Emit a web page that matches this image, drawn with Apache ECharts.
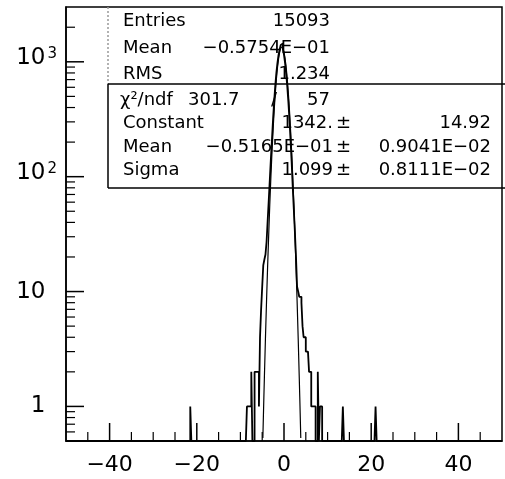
<!DOCTYPE html>
<html>
<head>
<meta charset="utf-8">
<script src="https://cdn.jsdelivr.net/npm/echarts@6/dist/echarts.min.js"></script>
<style>
	html, body { margin: 0; padding: 0; background: #fff; }
	#main { width: 505px; height: 479px; }
</style>
</head>
<body>
<div id="main"></div>
<script>
// axis range
var xMin = -50, xMax = 50;
var yMin = 0.5, yMax = 3000;
var binWidth = 0.25;

// histogram contents (bins of 0.25 starting at coreLow)
var coreLow = -8.5;
var coreCounts = [
	1, 1, 1, 1, 2, 0, 0, 2, 2, 2, 2, 1, 4, 7, 11, 17, 19, 21, 27, 41,
	62, 95, 145, 215, 320, 455, 620, 800, 980, 1150, 1280, 1400, 1440, 1290, 1150, 975, 790, 610, 450, 315,
	210, 135, 82, 52, 33, 20, 11, 10, 9, 9, 8, 5, 4, 4, 3, 3, 3, 2, 2, 1,
	1, 1, 1, 0, 0, 2, 0, 1, 1
];
// single entries far from the peak
var outlierLow = [-21.5, 13.5, 21.0];
var outlierCounts = [1, 1, 1];

// gaussian fit curve
var fitX = [-4.85, -4.5, -4.0, -3.5, -3.0, -2.5, -2.0, -1.5, -1.0, -0.5, 0.0, 0.5, 1.0, 1.5, 2.0, 2.5, 3.0, 3.5, 3.85];
var fitY = [0.53, 1.78, 8.4, 32, 101, 256, 529, 887, 1210, 1342, 1210, 887, 529, 256, 101, 32, 8.4, 1.78, 0.53];

// ticks
var xMajorTicks = [-40, -20, 0, 20, 40];
var xMinorTicks = [-45, -35, -30, -25, -15, -10, -5, 5, 10, 15, 25, 30, 35, 45];
var yMajorTicks = [1, 10, 100, 1000];
var yMinorTicks = [0.6, 0.7, 0.8, 0.9, 2, 3, 4, 5, 6, 7, 8, 9, 20, 30, 40, 50, 60, 70, 80, 90,
	200, 300, 400, 500, 600, 700, 800, 900, 2000];

// statistics box
var statsNames = ['Entries', 'Mean', 'RMS', 'χ²/ndf', 'Constant', 'Mean', 'Sigma'];
var statsValues = ['15093', '−0.5754E−01', '1.234', '57', '1342.', '−0.5165E−01', '1.099'];
var statsErrors = ['', '', '', '', '14.92', '0.9041E−02', '0.8111E−02'];
var chi2Value = '301.7';

// build step line of the histogram over the full range
var nBins = Math.round((xMax - xMin) / binWidth);
var counts = [];
for (var i = 0; i < nBins; i++) {
	counts[i] = 0;
}
for (var i = 0; i < coreCounts.length; i++) {
	counts[Math.round((coreLow - xMin) / binWidth) + i] = coreCounts[i];
}
for (var i = 0; i < outlierLow.length; i++) {
	counts[Math.round((outlierLow[i] - xMin) / binWidth)] = outlierCounts[i];
}
var histData = [];
for (var i = 0; i < nBins; i++) {
	// empty bins sit on the bottom of the log axis
	histData.push([xMin + i * binWidth, counts[i] > 0 ? counts[i] : yMin]);
}
histData.push([xMax, yMin]);

var fitData = [];
for (var i = 0; i < fitX.length; i++) {
	fitData.push([fitX[i], fitY[i]]);
}

// inward ticks drawn through the axis scales
function tickSeries(values, onY, len, width) {
	var data = [];
	for (var i = 0; i < values.length; i++) {
		data.push(onY ? [xMin, values[i]] : [values[i], yMin]);
	}
	return {
		type : 'custom',
		silent : true,
		z : 5,
		data : data,
		encode : { x : 0, y : 1 },
		renderItem : function(params, api) {
			var p = api.coord([api.value(0), api.value(1)]);
			return {
				type : 'line',
				shape : onY ? { x1 : p[0], y1 : p[1], x2 : p[0] + len, y2 : p[1] }
					: { x1 : p[0], y1 : p[1], x2 : p[0], y2 : p[1] - len },
				style : { stroke : '#000', lineWidth : width }
			};
		}
	};
}

var font = '"DejaVu Sans", sans-serif';
var statsFont = '18px ' + font;

function txt(s, x, y, align) {
	return {
		type : 'text',
		z : 1,
		style : {
			text : s, x : x, y : y, font : statsFont, fill : '#000',
			align : align, verticalAlign : 'middle',
			textAlign : align, textVerticalAlign : 'middle'
		}
	};
}
function seg(x1, y1, x2, y2, color, dash) {
	return {
		type : 'line',
		z : 1,
		shape : { x1 : x1, y1 : y1, x2 : x2, y2 : y2 },
		style : { stroke : color, lineWidth : 1.5, lineDash : dash }
	};
}

var rowY = [21, 48, 74, 100, 123, 147, 170];
var graphics = [
	seg(108, 7, 108, 84, '#999', [2, 2]),
	seg(108, 84, 108, 188, '#000', null),
	seg(108, 84, 505, 84, '#000', null),
	seg(108, 188, 505, 188, '#000', null)
];
for (var i = 0; i < statsNames.length; i++) {
	graphics.push(txt(statsNames[i], i == 3 ? 120 : 123, rowY[i], 'left'));
	if (i < 3) {
		graphics.push(txt(statsValues[i], 330, rowY[i], 'right'));
	} else if (i == 3) {
		graphics.push(txt(chi2Value, 188, rowY[i], 'left'));
		graphics.push(txt('/', 274, rowY[i], 'center'));
		graphics.push(txt(statsValues[i], 330, rowY[i], 'right'));
	} else {
		graphics.push(txt(statsValues[i], 333, rowY[i], 'right'));
		graphics.push(txt('±', 336, rowY[i], 'left'));
		graphics.push(txt(statsErrors[i], 491, rowY[i], 'right'));
	}
}

var chart = echarts.init(document.getElementById('main'));
var option = {
	animation : false,
	backgroundColor : '#fff',
	grid : {
		left : 66,
		top : 7,
		width : 440,
		height : 434,
		show : true,
		borderColor : '#000',
		borderWidth : 1.5
	},
	xAxis : {
		type : 'value',
		min : xMin,
		max : xMax,
		splitNumber : 5,
		axisLine : { show : true, onZero : false, lineStyle : { color : '#000', width : 1.5 } },
		axisTick : { show : false },
		splitLine : { show : false },
		axisLabel : {
			margin : 13,
			color : '#000',
			fontSize : 22,
			fontFamily : font,
			formatter : function(v) {
				if (v <= xMin || v >= xMax) {
					return '';
				}
				return (v < 0 ? '−' : '') + Math.abs(v);
			}
		}
	},
	yAxis : {
		type : 'log',
		logBase : 10,
		min : yMin,
		max : yMax,
		axisLine : { show : true, onZero : false, lineStyle : { color : '#000', width : 1.5 } },
		axisTick : { show : false },
		splitLine : { show : false },
		axisLabel : {
			margin : 9,
			color : '#000',
			formatter : function(v) {
				var e = Math.log(v) / Math.LN10;
				var k = Math.round(e);
				if (Math.abs(e - k) > 1e-6 || k < 0 || v >= yMax) {
					return '';
				}
				if (k == 0) {
					return '{n|1}{h|0}';
				}
				if (k == 1) {
					return '{n|10}{h|0}';
				}
				return '{m|10}{s|' + k + '}';
			},
			rich : {
				n : { fontSize : 23, fontFamily : font, color : '#000', verticalAlign : 'middle' },
				m : { fontSize : 23, fontFamily : font, color : '#000', verticalAlign : 'middle', padding : [0, 0, 8, 0] },
				s : { fontSize : 15, fontFamily : font, color : '#000', verticalAlign : 'top', padding : [0, 0, 0, 2] },
				h : { fontSize : 15, fontFamily : font, color : 'rgba(0,0,0,0)', verticalAlign : 'top', padding : [0, 0, 0, 2] }
			}
		}
	},
	graphic : graphics,
	series : [
		{
			type : 'line',
			step : 'end',
			data : histData,
			showSymbol : false,
			clip : true,
			z : 3,
			lineStyle : { color : '#000', width : 1.8 }
		}, {
			type : 'line',
			data : fitData,
			smooth : 0.4,
			showSymbol : false,
			z : 4,
			lineStyle : { color : '#000', width : 1.2 }
		},
		tickSeries(xMajorTicks, false, 18, 1.5),
		tickSeries(xMinorTicks, false, 9, 1.2),
		tickSeries(yMajorTicks, true, 18, 1.5),
		tickSeries(yMinorTicks, true, 9, 1.2)
	]
};
chart.setOption(option);
</script>
</body>
</html>
